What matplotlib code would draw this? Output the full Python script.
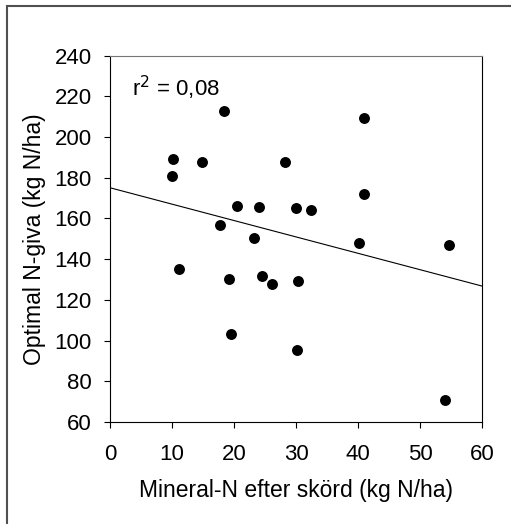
import matplotlib
matplotlib.use("Agg")
import matplotlib.pyplot as plt
from matplotlib.patches import Rectangle
import numpy as np

plt.rcParams['font.family'] = ['Liberation Sans', 'DejaVu Sans']

mineral_n = [10.0, 10.2, 14.9, 18.4, 11.2, 17.8, 20.5, 19.2, 19.5, 23.2, 24.0, 24.5,
             26.1, 28.2, 30.0, 30.3, 30.2, 32.4, 40.1, 41.0, 41.0, 54.7, 54.0]
optimal_n = [181, 189, 188, 213, 135, 157, 166, 130.5, 103, 150.5, 165.5, 131.5,
             128, 188, 165, 129.5, 95.5, 164, 148, 209.5, 172, 147, 71]
fit_intercept = 175.1
fit_slope = -0.805
r2_label = "r$^2$ = 0,08"
xticks = [0, 10, 20, 30, 40, 50, 60]
yticks = [60, 80, 100, 120, 140, 160, 180, 200, 220, 240]

fig = plt.figure(figsize=(5.11, 5.24), dpi=100)
ax = fig.add_axes([0.2153, 0.1947, 0.9432 - 0.2153, 0.8937 - 0.1947])

ax.scatter(mineral_n, optimal_n, s=62, color='black', zorder=3, linewidths=0)
xl = np.array([0, 60])
ax.plot(xl, fit_intercept + fit_slope * xl, color='black', lw=0.8)

ax.set_xlim(0, 60)
ax.set_ylim(60, 240)
ax.set_xticks(xticks)
ax.set_yticks(yticks)
ax.tick_params(direction='out', length=4, width=0.8, labelsize=16, color='black')
ax.tick_params(axis='y', pad=9)
ax.tick_params(axis='x', pad=12)
for s in ['left', 'bottom', 'right']:
    ax.spines[s].set_linewidth(0.8)
    ax.spines[s].set_color('black')
ax.spines['top'].set_linewidth(0.8)
ax.spines['top'].set_color('#777777')

ax.set_xlabel("Mineral-N efter skörd (kg N/ha)", fontsize=16.5, labelpad=10)
ax.set_ylabel("Optimal N-giva (kg N/ha)", fontsize=16.5, labelpad=6)
ax.text(3.6, 224, r2_label, fontsize=16, va='center', ha='left')

fig.add_artist(Rectangle((7 / 511, -0.1), 1.2, 1 - 5.5 / 524 + 0.1,
                         transform=fig.transFigure, fill=False,
                         edgecolor='#505050', lw=1.5))

fig.savefig("out.png", dpi=100)
